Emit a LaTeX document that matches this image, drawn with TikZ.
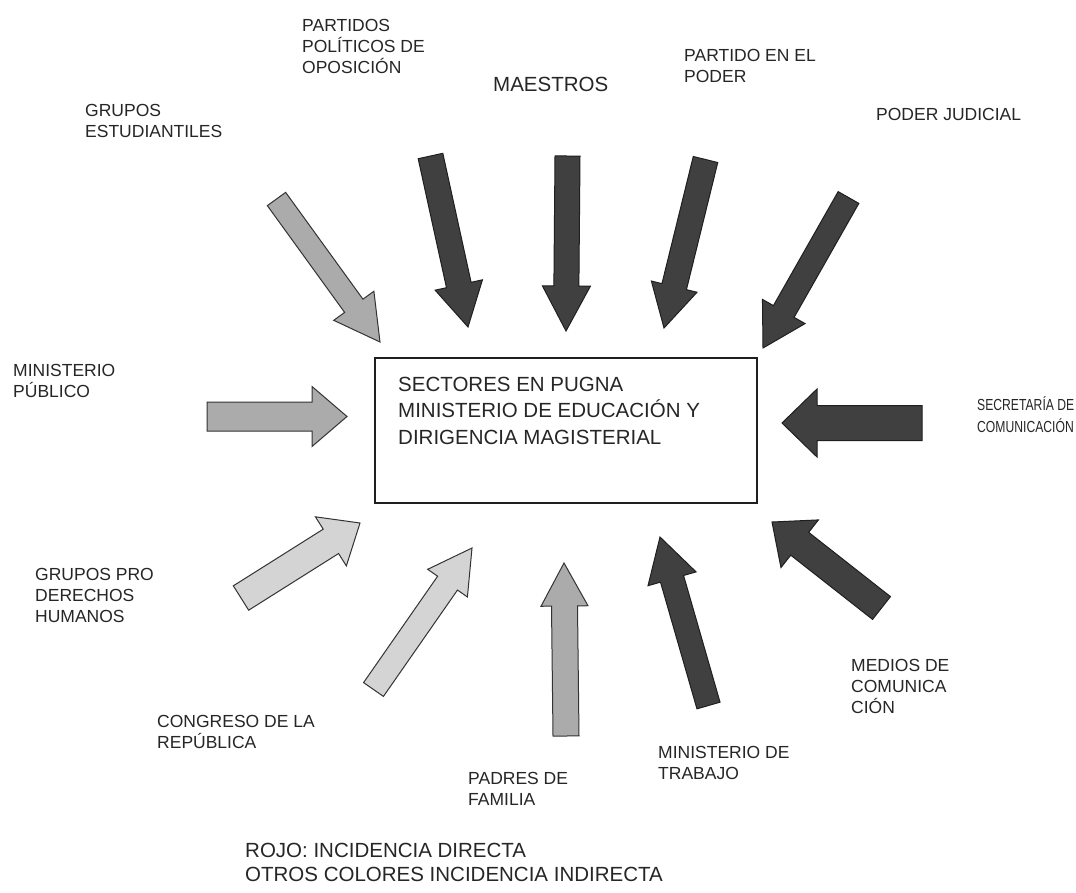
\documentclass[tikz,border=0pt]{standalone}
\usepackage{fontspec}
\setmainfont{Liberation Sans}
\newfontfamily\narrowsans[FakeStretch=0.76]{Liberation Sans}
\usetikzlibrary{calc}

% multi-line nodes sit on the baseline of their last line
\tikzset{
  lab/.style={font=\fontsize{17.5}{21}\selectfont, text=black!85, align=left, anchor=base west, inner sep=0pt},
  biglab/.style={font=\fontsize{20.5}{26.5}\selectfont, text=black!85, align=left, anchor=base west, inner sep=0pt},
  narrowlab/.style={font=\narrowsans\fontsize{16}{21.5}\selectfont, text=black!85, align=left, anchor=base west, inner sep=0pt},
  darkarrow/.style={draw=black!88, fill=black!75, line width=1pt, line join=miter},
  midarrow/.style={draw=black!80, fill=black!33, line width=1pt, line join=miter},
  lightarrow/.style={draw=black!80, fill=black!17, line width=1pt, line join=miter},
  framebox/.style={draw=black!88, line width=2.8pt, inner sep=0pt, minimum width=382pt, minimum height=145pt}
}

% block arrow from tail #1 to tip #2: half shaft width #3, half head width #4, head length #5
\newcommand\blockarrow[6]{%
  \coordinate (#1-hb) at ($(#2)!#5!(#1)$);
  \draw[#6] ($(#1)!#3!90:(#2)$) -- ($(#1-hb)!#3!90:(#2)$) -- ($(#1-hb)!#4!90:(#2)$)
    -- (#2) -- ($(#1-hb)!#4!-90:(#2)$) -- ($(#1-hb)!#3!-90:(#2)$) -- ($(#1)!#3!-90:(#2)$) -- cycle;
}

\begin{document}
\begin{tikzpicture}[x=1pt, y=-1pt]
\fill[white] (0,0) rectangle (1076,892);
\useasboundingbox (0,0) rectangle (1076,892);

% central box
\node[framebox] (box) at (566,430.5) {};
\node[biglab] (boxtext) at (398,444.3) {SECTORES EN PUGNA\\MINISTERIO DE EDUCACIÓN Y\\DIRIGENCIA MAGISTERIAL};

% actors
\node[lab] (est) at (85,137) {GRUPOS\\ESTUDIANTILES};
\node[lab] (par) at (302,73) {PARTIDOS\\POLÍTICOS DE\\OPOSICIÓN};
\node[biglab] (mae) at (493,91) {MAESTROS};
\node[lab] (pod) at (684,82) {PARTIDO EN EL\\PODER};
\node[lab] (jud) at (876,120) {PODER JUDICIAL};
\node[lab] (pub) at (13,397) {MINISTERIO\\PÚBLICO};
\node[narrowlab] (sec) at (977,432) {SECRETARÍA DE\\COMUNICACIÓN};
\node[lab] (dh) at (35,622) {GRUPOS PRO\\DERECHOS\\HUMANOS};
\node[lab] (med) at (851,713) {MEDIOS DE\\COMUNICA\\CIÓN};
\node[lab] (cong) at (157,748) {CONGRESO DE LA\\REPÚBLICA};
\node[lab] (tra) at (658,779) {MINISTERIO DE\\TRABAJO};
\node[lab] (pad) at (468,805) {PADRES DE\\FAMILIA};
\node[biglab, font=\fontsize{20.5}{23.5}\selectfont] (legend) at (245,881) {ROJO: INCIDENCIA DIRECTA\\OTROS COLORES INCIDENCIA INDIRECTA};

% arrow end points
\coordinate (estT) at (276.5,199);  \coordinate (estP) at (380,342);
\coordinate (parT) at (430.5,156);  \coordinate (parP) at (468,327);
\coordinate (maeT) at (567.5,156);  \coordinate (maeP) at (566,331);
\coordinate (podT) at (705.5,159.5);\coordinate (podP) at (664,328);
\coordinate (judT) at (848.5,197.5);\coordinate (judP) at (763,348);
\coordinate (pubT) at (207,416.5);  \coordinate (pubP) at (347,416.5);
\coordinate (secT) at (922,423);    \coordinate (secP) at (782,423);
\coordinate (dhT) at (241,598);     \coordinate (dhP) at (360,523);
\coordinate (congT) at (373.5,689.5);\coordinate (congP) at (472,548);
\coordinate (padT) at (566,736);    \coordinate (padP) at (564,563);
\coordinate (traT) at (708.5,705.5);\coordinate (traP) at (660,537);
\coordinate (medT) at (881.5,608);  \coordinate (medP) at (772,522);

% arrows pointing at the box
\blockarrow{estT}{estP}{11.3pt}{24.8pt}{44.7pt}{midarrow}
\blockarrow{parT}{parP}{12.6pt}{24.2pt}{43pt}{darkarrow}
\blockarrow{maeT}{maeP}{12.5pt}{24pt}{45pt}{darkarrow}
\blockarrow{podT}{podP}{12.6pt}{23.5pt}{42.6pt}{darkarrow}
\blockarrow{judT}{judP}{11.9pt}{24.5pt}{42pt}{darkarrow}
\blockarrow{pubT}{pubP}{14.5pt}{30pt}{35pt}{midarrow}
\blockarrow{secT}{secP}{17.5pt}{34pt}{35pt}{darkarrow}
\blockarrow{dhT}{dhP}{14.4pt}{29pt}{34.4pt}{lightarrow}
\blockarrow{congT}{congP}{12.1pt}{24.2pt}{42.8pt}{lightarrow}
\blockarrow{padT}{padP}{13pt}{23.5pt}{43pt}{midarrow}
\blockarrow{traT}{traP}{12pt}{25pt}{43.5pt}{darkarrow}
\blockarrow{medT}{medP}{14.5pt}{30.3pt}{35.2pt}{darkarrow}
\end{tikzpicture}
\end{document}
